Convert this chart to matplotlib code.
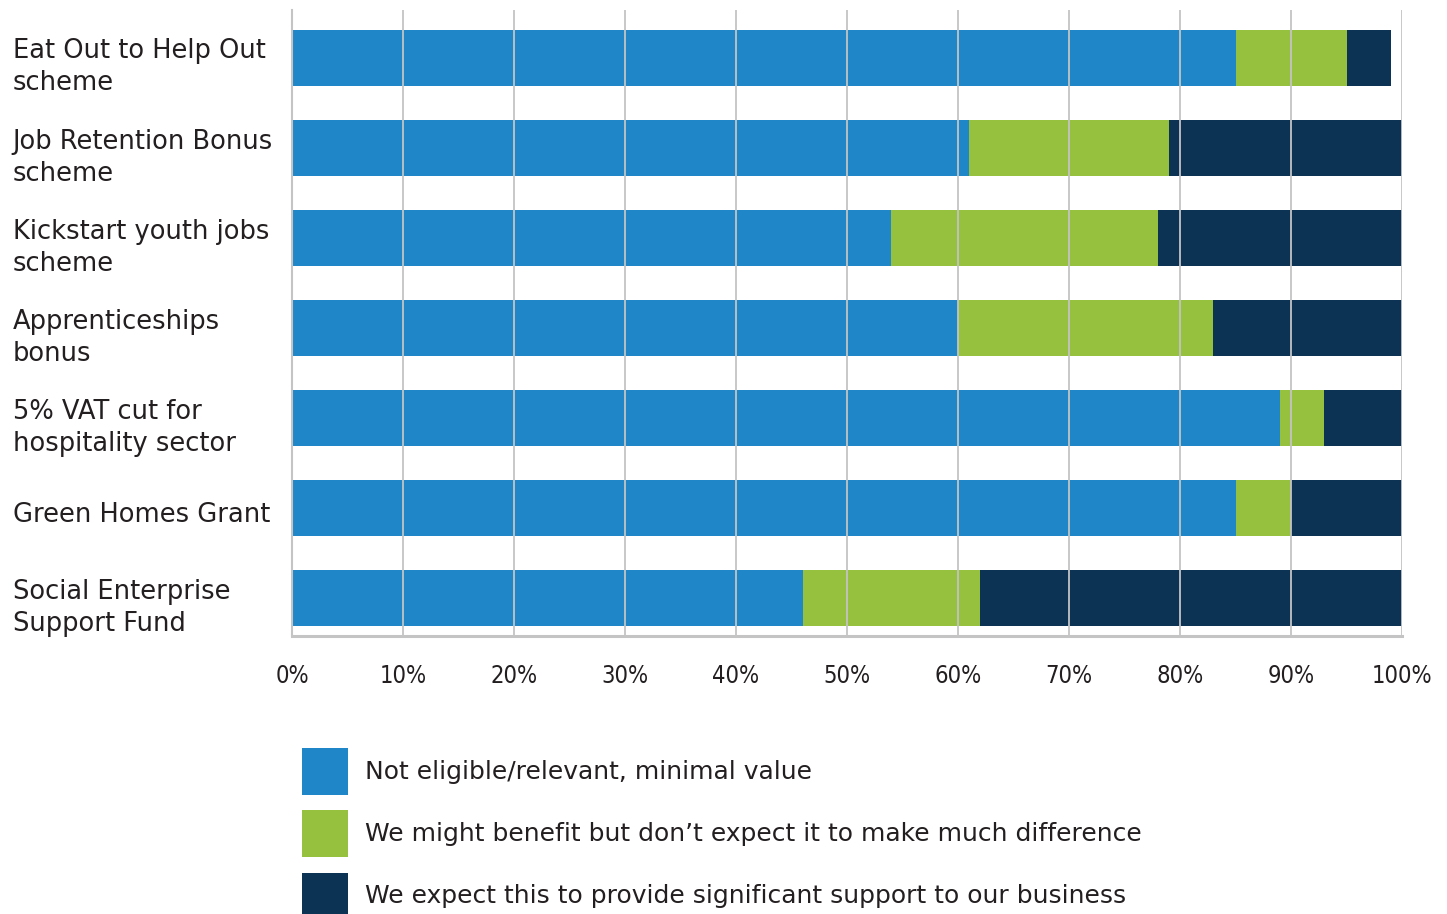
import numpy as np
import matplotlib
matplotlib.use("Agg")
from matplotlib import pyplot as plt
from matplotlib.transforms import ScaledTranslation

categories = ["Eat Out to Help Out\nscheme", "Job Retention Bonus\nscheme",
              "Kickstart youth jobs\nscheme", "Apprenticeships\nbonus",
              "5% VAT cut for\nhospitality sector", "Green Homes Grant",
              "Social Enterprise\nSupport Fund"]
not_eligible = [85, 61, 54, 60, 89, 85, 46]
might_benefit = [10, 18, 24, 23, 4, 5, 16]
significant = [4, 21, 22, 17, 7, 10, 38]
series_labels = ["Not eligible/relevant, minimal value",
                 "We might benefit but don\u2019t expect it to make much difference",
                 "We expect this to provide significant support to our business"]
colors = ["#1f86c8", "#96c13f", "#0d3354"]
ticks = list(range(0, 101, 10))

fig = plt.figure(figsize=(14.47, 9.14), dpi=100)
ax = fig.add_axes([292/1447, 1-636/914, 1110/1447, 626/914])

y = np.arange(len(categories))
left = np.zeros(len(categories))
for vals, c, lab in zip([not_eligible, might_benefit, significant], colors, series_labels):
    ax.barh(y, vals, left=left, height=0.62, color=c, label=lab, zorder=1)
    left = left + np.array(vals)

ax.set_xlim(0, 100)
ax.set_ylim(6.42, -0.533)
ax.set_xticks(ticks)
ax.set_xticklabels(["%d%%" % t for t in ticks], family="DejaVu Sans", fontstretch="condensed",
                   fontsize=17, color="#231f20")
ax.xaxis.grid(True, color="#c4c4c4", lw=1.3, zorder=2)
ax.set_axisbelow(False)
ax.tick_params(axis="x", length=0, pad=20)

ax.set_yticks(y)
ax.set_yticklabels(categories, fontsize=18.5, color="#231f20", ha="left", linespacing=1.3)
ax.tick_params(axis="y", length=0, pad=201)
for lbl in ax.get_yticklabels():
    lbl.set_transform(lbl.get_transform() + ScaledTranslation(0, -0.035, fig.dpi_scale_trans))

for s in ["top", "right"]:
    ax.spines[s].set_visible(False)
ax.spines["left"].set_color("#c4c4c4")
ax.spines["left"].set_linewidth(1.5)
ax.spines["bottom"].set_color("#c4c4c4")
ax.spines["bottom"].set_linewidth(2.2)

fig.legend(loc="upper left", bbox_to_anchor=(302/1447, 1-748/914), frameon=False,
           fontsize=18, handlelength=1.82, handleheight=2.5, labelspacing=0.62,
           handletextpad=0.7, borderpad=0, borderaxespad=0, labelcolor="#231f20")

plt.savefig("out.png", dpi=100)
